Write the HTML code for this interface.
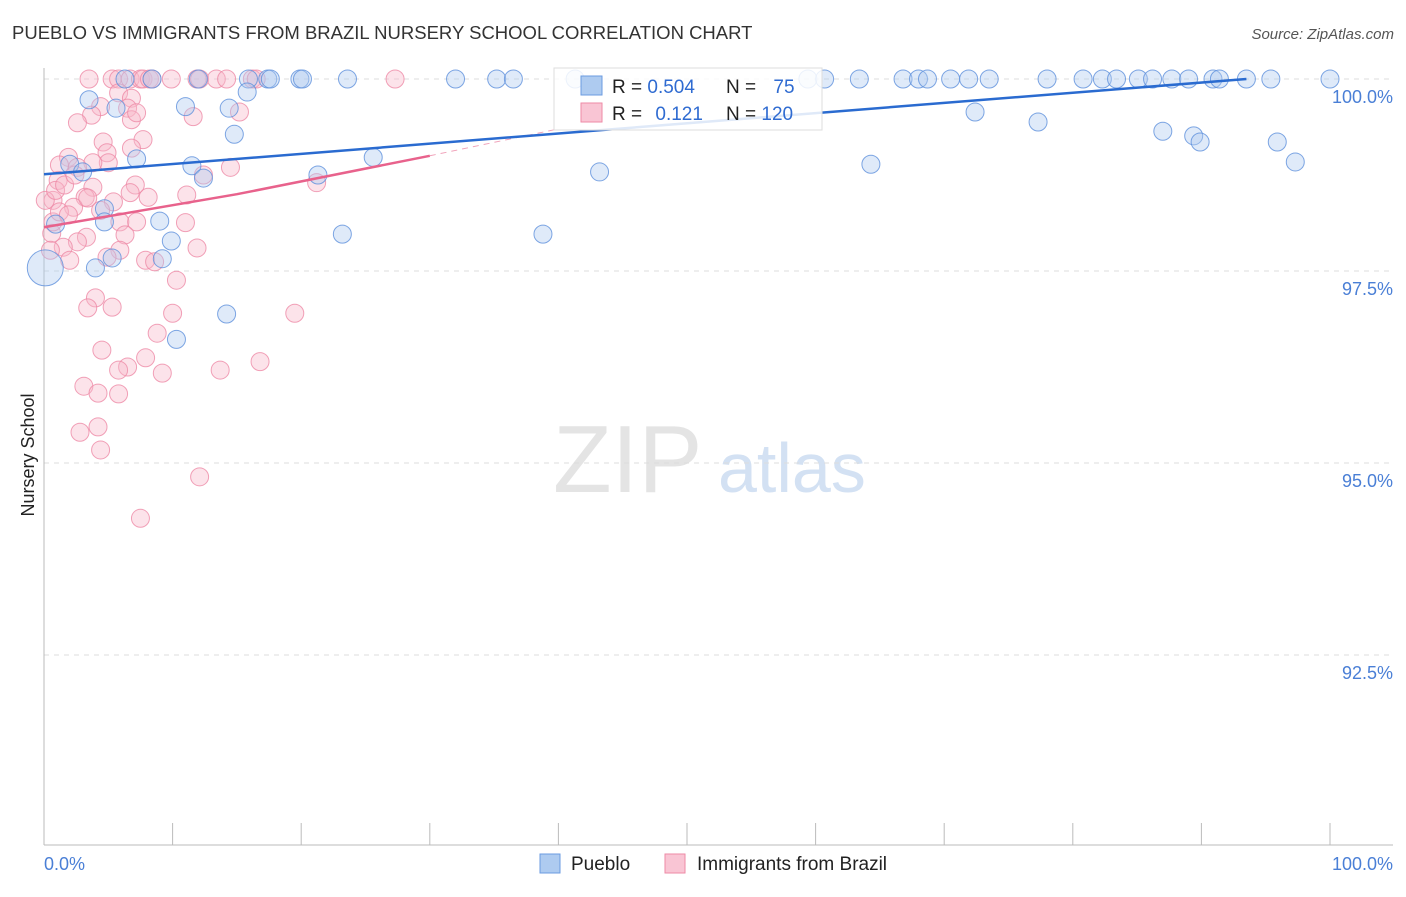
<!DOCTYPE html>
<html><head><meta charset="utf-8"><style>
body{margin:0;background:#fff;font-family:"Liberation Sans",sans-serif;}
svg text{font-family:"Liberation Sans",sans-serif;}
</style></head><body>
<svg width="1406" height="892" xmlns="http://www.w3.org/2000/svg">
<text x="12" y="39" font-size="18.5" fill="#333">PUEBLO VS IMMIGRANTS FROM BRAZIL NURSERY SCHOOL CORRELATION CHART</text>
<text x="1394" y="39" font-size="15" fill="#555" text-anchor="end" font-style="italic">Source: ZipAtlas.com</text>
<text x="553" y="492" font-size="96" fill="#e4e4e4" font-family="Liberation Serif">ZIP</text>
<text x="718" y="492" font-size="70" fill="#d3e1f3">atlas</text>
<g id="grid"></g>
<line x1="44" y1="68" x2="44" y2="845" stroke="#bbb"/>
<line x1="44" y1="845" x2="1393" y2="845" stroke="#bbb"/>
<text x="34" y="455" font-size="18" fill="#222" transform="rotate(-90 34 455)" text-anchor="middle">Nursery School</text>
<text x="44" y="870" font-size="18" fill="#4a7fd6">0.0%</text>
<text x="1393" y="870" font-size="18" fill="#4a7fd6" text-anchor="end">100.0%</text>
<g id="pts"></g>
<g id="lines"></g>
<g>
<rect x="554" y="68" width="268" height="62" fill="#fff" fill-opacity="0.85" stroke="#ddd"/>
<rect x="581" y="76" width="21" height="19" fill="#aecbf0" stroke="#6b9be0"/>
<rect x="581" y="103" width="21" height="19" fill="#f9c5d4" stroke="#ee8aa6"/>
<text x="612" y="93" font-size="19" fill="#222">R = <tspan fill="#2f6bd1">0.504</tspan></text>
<text x="726" y="93" font-size="19" fill="#222">N = <tspan fill="#2f6bd1" dx="12">75</tspan></text>
<text x="612" y="120" font-size="19" fill="#222">R = <tspan fill="#2f6bd1" dx="8">0.121</tspan></text>
<text x="726" y="120" font-size="19" fill="#222">N = <tspan fill="#2f6bd1">120</tspan></text>
</g>
<g>
<rect x="540" y="854" width="20" height="19" fill="#aecbf0" stroke="#6b9be0"/>
<text x="571" y="870" font-size="19" fill="#222">Pueblo</text>
<rect x="665" y="854" width="20" height="19" fill="#f9c5d4" stroke="#ee8aa6"/>
<text x="697" y="870" font-size="19" fill="#222">Immigrants from Brazil</text>
</g>
</svg>
<script>
const yTicks=[100,97.5,95,92.5];
const yTickLabels=["100.0%","97.5%","95.0%","92.5%"];
const xTicks=[0,10,20,30,40,50,60,70,80,90,100];
const blueX=[6.3,8.4,12.0,15.9,17.4,17.6,19.9,20.1,23.6,32.0,35.2,36.5,41.3,59.4,60.7,63.4,66.8,68.0,68.7,70.5,71.9,73.5,78.0,80.8,82.3,83.4,85.1,86.2,87.7,89.0,90.9,91.4,93.5,95.4,100,3.5,5.6,11.0,14.4,15.8,14.8,7.2,11.5,12.4,21.3,25.6,43.2,64.3,72.4,77.3,87.0,89.4,89.9,95.9,97.3,2.0,3.0,0.9,4.7,9.0,9.9,4.7,5.3,4.0,9.2,23.2,38.8,14.2,10.3,0.1];
const blueY=[100,100,100,100,100,100,100,100,100,100,100,100,100,100,100,100,100,100,100,100,100,100,100,100,100,100,100,100,100,100,100,100,100,100,100,99.73,99.62,99.64,99.62,99.83,99.28,98.96,98.87,98.71,98.75,98.98,98.79,98.89,99.57,99.44,99.32,99.26,99.18,99.18,98.92,98.89,98.79,98.11,98.31,98.15,97.89,98.14,97.67,97.54,97.66,97.98,97.98,96.94,96.61,97.54];
const pinkX=[3.5,5.3,5.8,6.7,7.5,7.7,8.2,8.4,9.9,11.9,12.1,13.4,14.2,16.2,16.5,27.3,4.4,5.8,6.8,3.7,2.6,6.5,6.8,7.2,11.6,15.2,4.6,7.7,6.8,4.9,1.9,5.0,3.8,2.6,1.1,12.4,14.5,21.2,7.1,3.8,6.7,8.1,11.1,5.4,3.2,0.7,2.3,3.4,4.4,5.9,7.2,11.0,6.3,3.3,2.6,1.5,0.6,11.9,5.9,4.9,2.0,7.9,8.6,10.3,4.0,5.3,3.4,10.0,19.5,8.8,4.5,7.9,6.5,5.8,13.7,16.8,9.2,3.1,4.2,5.8,2.8,4.2,4.4,12.1,7.5,0.7,0.5,1.2,1.9,0.1,0.9,1.6,2.4,1.2];
const pinkY=[100,100,100,100,100,100,100,100,100,100,100,100,100,100,100,100,99.64,99.82,99.75,99.53,99.43,99.62,99.47,99.56,99.51,99.57,99.18,99.21,99.10,99.04,98.98,98.91,98.91,98.85,98.68,98.75,98.85,98.65,98.62,98.59,98.52,98.46,98.49,98.40,98.46,98.42,98.33,98.45,98.29,98.14,98.14,98.13,97.97,97.94,97.88,97.81,97.99,97.80,97.77,97.68,97.64,97.64,97.62,97.38,97.15,97.03,97.02,96.95,96.95,96.69,96.47,96.37,96.25,96.21,96.21,96.32,96.17,96.00,95.91,95.90,95.40,95.47,95.17,94.82,94.28,98.14,97.77,98.27,98.23,98.42,98.55,98.62,98.75,98.88];
const blueTrend=[[0,98.76],[93.5,100]];
const pinkTrendSolid=[[0,98.07],[15,98.5],[30,99.0]];
const pinkTrendDash=[[30,99.0],[40,99.35]];
const NS="http://www.w3.org/2000/svg";
const sx=v=>44+v*12.86;
const sy=v=>79+(100-v)/2.5*192;
const grid=document.getElementById('grid');
yTicks.forEach((t,i)=>{
 const l=document.createElementNS(NS,'line');
 l.setAttribute('x1',44);l.setAttribute('x2',1393);l.setAttribute('y1',sy(t));l.setAttribute('y2',sy(t));
 l.setAttribute('stroke','#ddd');l.setAttribute('stroke-dasharray','5,5');
 
 
 grid.appendChild(l);
 const tx=document.createElementNS(NS,'text');
 tx.setAttribute('x',1393);tx.setAttribute('y',sy(t)+24);tx.setAttribute('text-anchor','end');
 tx.setAttribute('font-size','18');tx.setAttribute('fill','#4a7fd6');tx.textContent=yTickLabels[i];
 
 
 grid.appendChild(tx);
});
xTicks.forEach(t=>{
 const l=document.createElementNS(NS,'line');
 l.setAttribute('x1',sx(t));l.setAttribute('x2',sx(t));l.setAttribute('y1',823);l.setAttribute('y2',845);
 l.setAttribute('stroke','#bbb');
 
 
 grid.appendChild(l);
});
const pts=document.getElementById('pts');
function dot(x,y,r,fill,stroke,name){
 const c=document.createElementNS(NS,'circle');
 c.setAttribute('cx',sx(x));c.setAttribute('cy',sy(y));c.setAttribute('r',r);
 c.setAttribute('fill',fill);c.setAttribute('fill-opacity','0.4');c.setAttribute('stroke',stroke);c.setAttribute('stroke-opacity','0.8');
 
 
 pts.appendChild(c);
}
pinkX.forEach((x,i)=>dot(x,pinkY[i],9,'#f8b8cb','#ee8aa6','brazil-point'));
blueX.forEach((x,i)=>dot(x,blueY[i],i===blueX.length-1?18:9,'#aecbf0','#5e90dc','pueblo-point'));
const lines=document.getElementById('lines');
function poly(arr,color,dash,name){
 const p=document.createElementNS(NS,'polyline');
 p.setAttribute('points',arr.map(a=>sx(a[0])+','+sy(a[1])).join(' '));
 p.setAttribute('fill','none');p.setAttribute('stroke',color);p.setAttribute('stroke-width',dash?1:2.5);
 if(dash)p.setAttribute('stroke-dasharray','6,5');
 
 
 lines.appendChild(p);
}
poly(pinkTrendDash,'#f0a0b8',true,'brazil-trend-extension');
poly(pinkTrendSolid,'#e8628c',false,'brazil-trend-line');
poly(blueTrend,'#2a6bd0',false,'pueblo-trend-line');
</script>
</body></html>
